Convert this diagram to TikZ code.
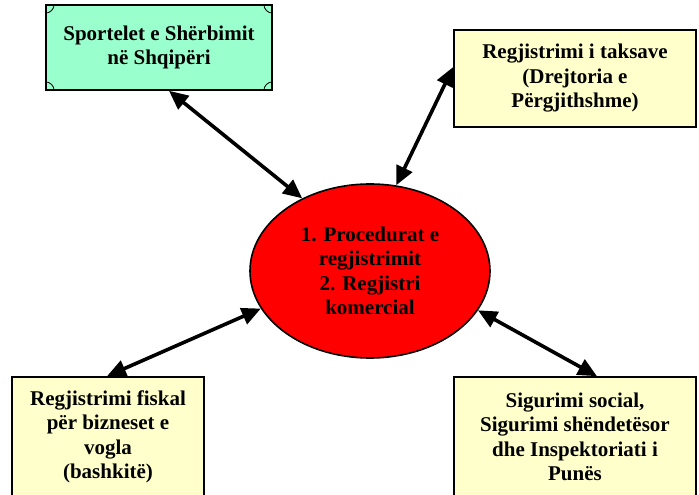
\documentclass[tikz,border=0pt]{standalone}
\usepackage{fontspec}
\setmainfont{Liberation Serif}
\usetikzlibrary{arrows.meta,shapes.geometric,calc}
\definecolor{mint}{HTML}{99FFCC}
\definecolor{paleyellow}{HTML}{FFFFCC}
\definecolor{redfill}{HTML}{FF0000}
\tikzset{
  x=1pt,y=-1pt,
  boxtext/.style={font=\bfseries\fontsize{21}{24.5}\selectfont, align=center, inner sep=0pt},
  yellowbox/.style={draw=black, line width=1.6pt, fill=paleyellow, rectangle, boxtext},
  greenbox/.style={draw=black, line width=1.6pt, fill=mint, rectangle, boxtext},
  centerell/.style={draw=black, line width=1.6pt, fill=redfill, ellipse, boxtext},
  link/.style={line width=3.6pt, {Triangle[length=19pt,width=17pt]}-{Triangle[length=19pt,width=17pt]}}
}
\begin{document}
\begin{tikzpicture}
\useasboundingbox (0,0) rectangle (699,495);
\clip (0,0) rectangle (699,495);
\node[greenbox, minimum width=226pt, minimum height=85pt] (green) at (159,47.5) {Sportelet e Shërbimit\\në Shqipëri};
\draw[line width=0.8pt] ($(green.north west)+(9,0)$) arc[start angle=0, end angle=90, radius=9];
\draw[line width=0.8pt] ($(green.north east)+(-9,0)$) arc[start angle=180, end angle=90, radius=9];
\draw[line width=0.8pt] ($(green.south west)+(9,0)$) arc[start angle=0, end angle=-90, radius=9];
\draw[line width=0.8pt] ($(green.south east)+(-9,0)$) arc[start angle=180, end angle=270, radius=9];
\node[yellowbox, minimum width=242pt, minimum height=97pt] (tax) at (575,78.5) {Regjistrimi i taksave\\(Drejtoria e\\Përgjithshme)};
\node[yellowbox, minimum width=192pt, minimum height=120pt] (fiscal) at (108,437) {Regjistrimi fiskal\\për bizneset e\\vogla\\(bashkitë)};
\node[yellowbox, minimum width=242pt, minimum height=120pt] (social) at (575,437) {Sigurimi social,\\Sigurimi shëndetësor\\dhe Inspektoriati i\\Punës};
\node[centerell, minimum width=240pt, minimum height=174pt] (proc) at (370,271) {1. Procedurat e\\regjistrimit\\2. Regjistri\\komercial};
\draw[link] ([xshift=10pt]green.south) -- (proc.133.6);
\draw[link] ([yshift=11.5pt]tax.west) -- (proc.73.8);
\draw[link] (proc.199.7) -- ([xshift=-1pt]fiscal.north);
\draw[link] (proc.340.6) -- ([xshift=22pt]social.north);
\end{tikzpicture}
\end{document}
